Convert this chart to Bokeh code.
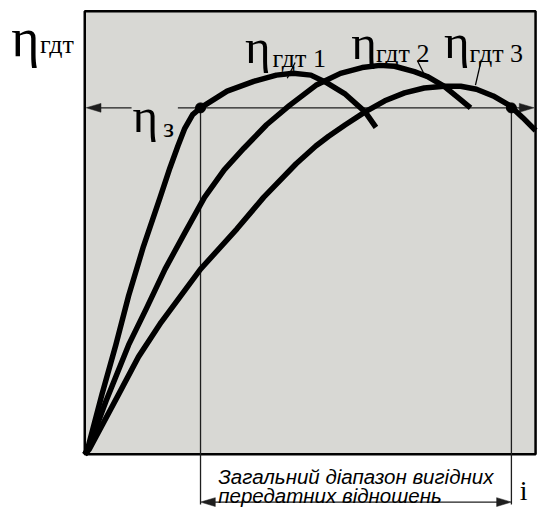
from bokeh.plotting import figure
from bokeh.models import Range1d
from bokeh.embed import file_html
from bokeh.resources import INLINE
from bokeh.core.properties import value

# ---------------- data (i: 0..10 across the box, eta: 0..1 up the box) ----------------
curve1_i = [0.0, 0.055, 0.383, 0.689, 0.973, 1.301, 1.672, 1.891, 2.066, 2.219, 2.393, 2.568,
            3.158, 3.749, 4.251, 4.623, 5.016, 5.344, 5.781, 6.219, 6.459]
curve1_eta = [0.0, 0.009, 0.136, 0.247, 0.358, 0.469, 0.580, 0.647, 0.696, 0.736, 0.767, 0.782,
              0.820, 0.842, 0.856, 0.860, 0.856, 0.840, 0.813, 0.773, 0.738]

curve2_i = [0.0, 0.098, 0.470, 0.973, 1.366, 1.781, 2.219, 2.656, 3.093, 3.530, 4.033, 4.536,
            5.126, 5.672, 6.153, 6.546, 6.874, 7.311, 7.596, 7.967, 8.295, 8.557]
curve2_eta = [0.0, 0.018, 0.120, 0.247, 0.329, 0.418, 0.500, 0.580, 0.642, 0.691, 0.744, 0.787,
              0.833, 0.860, 0.873, 0.878, 0.876, 0.864, 0.853, 0.831, 0.804, 0.782]

curve3_i = [0.0, 0.098, 0.754, 1.191, 1.694, 2.568, 3.377, 3.967, 4.689, 5.126, 5.410, 5.781,
            6.219, 6.656, 7.093, 7.530, 7.967, 8.339, 8.689, 9.060, 9.432, 9.716, 10.0]
curve3_eta = [0.0, 0.011, 0.136, 0.220, 0.298, 0.418, 0.509, 0.580, 0.656, 0.696, 0.718, 0.744,
              0.773, 0.798, 0.816, 0.827, 0.831, 0.831, 0.824, 0.809, 0.787, 0.760, 0.731]

eta_z = 0.782          # required efficiency level
i_low = 2.568          # intersection with curve 1
i_high = 9.464         # intersection with curve 3

curve_labels = ["\u0433\u0434\u0442 1", "\u0433\u0434\u0442 2", "\u0433\u0434\u0442 3"]
axis_y_sub = "\u0433\u0434\u0442"
eta_z_sub = "\u0437"
axis_x_label = "i"
range_text = ["\u0417\u0430\u0433\u0430\u043b\u044c\u043d\u0438\u0439 \u0434\u0456\u0430\u043f\u0430\u0437\u043e\u043d \u0432\u0438\u0433\u0456\u0434\u043d\u0438\u0445",
              "\u043f\u0435\u0440\u0435\u0434\u0430\u0442\u043d\u0438\u0445 \u0432\u0456\u0434\u043d\u043e\u0448\u0435\u043d\u044c"]

# ---------------- layout helpers (reference pixels -> data units) ----------------
W, H = 540, 507
SX, SY = 45.75, 450.0
X0_PX, Y0_PX = 85.5, 461.0


def X(px):
    return (px - X0_PX) / SX


def Y(py):
    return (Y0_PX - py) / SY


def head(tip_px, tip_py, direction, length=15, half=4.5):
    # direction: +1 points right, -1 points left
    bx = tip_px - direction * length
    return [X(tip_px), X(bx), X(bx)], [Y(tip_py), Y(tip_py - half), Y(tip_py + half)]


p = figure(width=W, height=H, output_backend="svg", toolbar_location=None,
           x_range=Range1d(X(0), X(548)), y_range=Range1d(Y(515), Y(0)),
           min_border=0, background_fill_color="white", border_fill_color="white")
p.axis.visible = False
p.grid.visible = False
p.outline_line_color = None

# box
p.quad(left=0, right=10, bottom=0, top=1, fill_color="#d8d8d4",
       line_color="black", line_width=2.5)

thin = dict(line_color="#1e1e1e", line_width=1.3)

# eta_z level line (interrupted by its label)
p.segment(x0=[X(100), X(180)], y0=[eta_z, eta_z], x1=[X(133), X(528)], y1=[eta_z, eta_z], **thin)
# vertical lines from intersections down to the range arrow
p.segment(x0=[i_low, i_high], y0=[eta_z, eta_z], x1=[i_low, i_high], y1=[Y(512), Y(512)], **thin)
# range arrow line
p.segment(x0=[X(216)], y0=[Y(509.5)], x1=[X(506)], y1=[Y(509.5)], **thin)

# arrowheads
hx, hy = [], []
for tx, ty, d in [(87, 109, -1), (541.5, 109, 1), (i_low * SX + X0_PX, 509.5, -1), (i_high * SX + X0_PX, 509.5, 1)]:
    a, b = head(tx, ty, d)
    hx.append(a)
    hy.append(b)
p.patches(hx, hy, fill_color="#1e1e1e", line_color="#1e1e1e", line_width=0.5)

# curves
for ci, ce in [(curve1_i, curve1_eta), (curve2_i, curve2_eta), (curve3_i, curve3_eta)]:
    p.line(ci, ce, line_color="black", line_width=5.5, line_join="round")

# intersection dots
p.scatter([i_low, i_high], [eta_z, eta_z], size=10, color="black")

# leader lines
p.segment(x0=[X(299), X(423), X(488)], y0=[Y(63), Y(61), Y(60)],
          x1=[X(291), X(432), X(482)], y1=[Y(79), Y(79), Y(86)],
          line_color="black", line_width=1.3)

serif = value("Liberation Serif")
sans = value("Liberation Sans")

# big eta glyphs
p.text(x=[X(11)], y=[Y(38)], text=["\u03b7"], text_font=serif,
       text_font_size="54px", text_baseline="alphabetic", text_align="left", text_color="black")
p.text(x=[X(248), X(356), X(450), X(134)], y=[Y(47), Y(43), Y(42), Y(117)],
       text=["\u03b7"] * 4, text_font=serif,
       text_font_size="49px", text_baseline="alphabetic", text_align="left",
       text_color="black")
# subscripts
p.text(x=[X(40), X(276), X(381), X(476)], y=[Y(45), Y(59), Y(54), Y(54)],
       text=[axis_y_sub] + curve_labels, text_font=serif, text_font_size="26px",
       text_baseline="alphabetic", text_align="left", text_color="black")
p.text(x=[X(165)], y=[Y(129)], text=[eta_z_sub], text_font=serif, text_font_size="28px",
       text_baseline="alphabetic", text_align="left", text_color="black")
# x label
p.text(x=[X(527)], y=[Y(498)], text=[axis_x_label], text_font=serif, text_font_size="28px",
       text_baseline="alphabetic", text_align="left", text_color="black")
# range description
p.text(x=[X(221), X(221)], y=[Y(484), Y(503)], text=range_text, text_font=sans,
       text_font_style="italic", text_font_size="20.5px",
       text_baseline="alphabetic", text_align="left", text_color="black")

open("out.html", "w").write(file_html(p, INLINE))
